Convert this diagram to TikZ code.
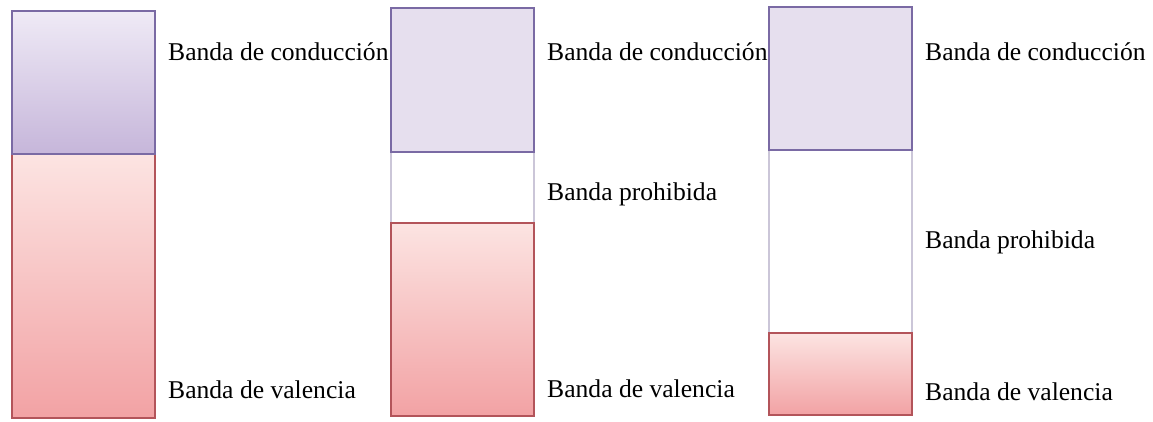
\documentclass[tikz,border=0pt]{standalone}
\usepackage{fontspec}
\setmainfont{Liberation Serif}
\definecolor{condborder}{HTML}{7A6AA4}
\definecolor{valborder}{HTML}{B3545A}
\definecolor{gapline}{HTML}{CBC6D8}
\definecolor{condtop}{HTML}{EFEAF6}
\definecolor{condbot}{HTML}{C6B6DA}
\definecolor{condflat}{HTML}{E6DFEE}
\definecolor{valtop}{HTML}{FCE4E2}
\definecolor{valbot}{HTML}{F2A2A4}
\tikzset{
  condbox/.style={draw=condborder, line width=2pt},
  valbox/.style={draw=valborder, line width=2pt, top color=valtop, bottom color=valbot},
  gapside/.style={draw=gapline, line width=1.2pt},
  lbl/.style={anchor=base west, inner sep=0pt, font=\fontsize{25.6}{29}\selectfont}
}
\begin{document}
\begin{tikzpicture}[x=1pt,y=-1pt]
\useasboundingbox (0,0) rectangle (1153,421);
\clip (0,0) rectangle (1153,421);
% Panel 1
\path[valbox] (12,154) rectangle (155,418);
\path[condbox, top color=condtop, bottom color=condbot] (12,11) rectangle (155,154);
\node[lbl] (c1) at (168,60) {Banda de conducción};
\node[lbl] (v1) at (168,398) {Banda de valencia};
% Panel 2
\draw[gapside] (391,152) -- (391,223) (534,152) -- (534,223);
\path[condbox, fill=condflat] (391,8) rectangle (534,152);
\path[valbox] (391,223) rectangle (534,416);
\node[lbl] (c2) at (547,60) {Banda de conducción};
\node[lbl] (p2) at (547,200) {Banda prohibida};
\node[lbl] (v2) at (547,397) {Banda de valencia};
% Panel 3
\draw[gapside] (769,150) -- (769,333) (912,150) -- (912,333);
\path[condbox, fill=condflat] (769,7) rectangle (912,150);
\path[valbox] (769,333) rectangle (912,415);
\node[lbl] (c3) at (925,60) {Banda de conducción};
\node[lbl] (p3) at (925,248) {Banda prohibida};
\node[lbl] (v3) at (925,400) {Banda de valencia};
\end{tikzpicture}
\end{document}
